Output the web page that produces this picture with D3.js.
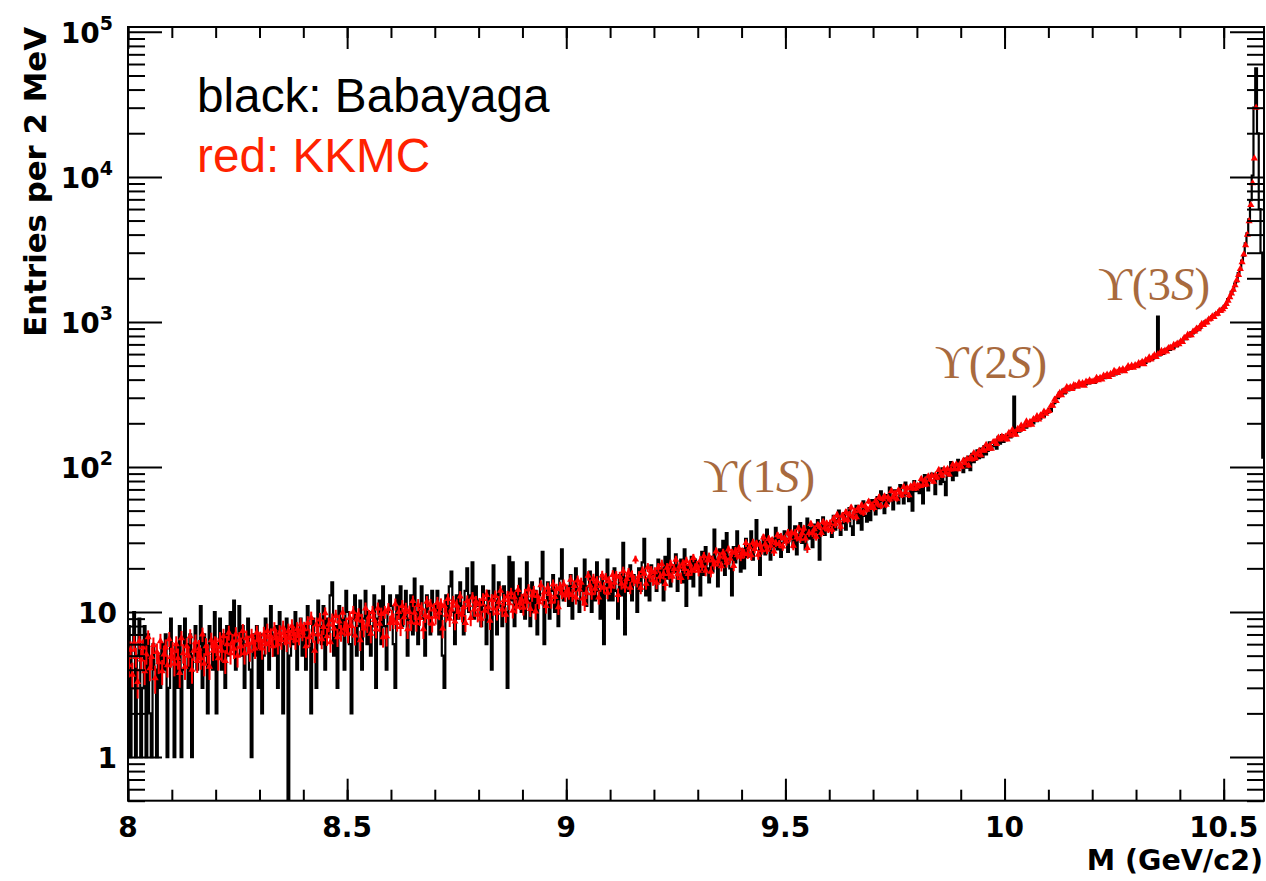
<!DOCTYPE html>
<html>
<head>
<meta charset="utf-8">
<script src="https://cdn.jsdelivr.net/npm/d3@7/dist/d3.min.js"></script>
<style>
    body { margin: 0; background: #fff; }
    .tick line { stroke: #000; stroke-width: 2; }
</style>
</head>
<body>
<svg id="chart" width="1266" height="881"></svg>
<script>
// histogram binning (values are entries per 2 MeV)
const binStart = 8.0;
const binWidth = 0.004;

// black: Babayaga, 25 bins per 0.1 GeV
const babayaga = [
    8, 1, 6, 10, 1, 5, 9, 1, 3, 8, 1, 7, 2, 1, 6, 4, 1, 5, 3, 6, 4, 7, 1, 3, 9,
    5, 1, 6, 3, 8, 1, 4, 9, 6, 3, 7, 1, 5, 8, 4, 6, 11, 3, 7, 5, 2, 8, 6, 4, 10,
    2, 6, 9, 4, 7, 3, 8, 5, 10, 6, 12, 4, 7, 11, 5, 8, 3, 6, 9, 4, 1, 7, 5, 8, 3,
    7, 2, 5, 9, 6, 4, 11, 7, 5, 8, 3, 10, 6, 2, 7, 9, 0, 5, 8, 6, 10, 4, 7, 9, 5,
    8, 4, 11, 6, 2, 9, 7, 3, 12, 8, 6, 11, 4, 9, 7, 13, 16, 5, 8, 3, 11, 7, 9, 4, 14,
    10, 6, 2, 9, 13, 5, 8, 12, 4, 9, 14, 6, 10, 5, 8, 13, 3, 9, 12, 6, 15, 8, 4, 10, 13,
    11, 6, 3, 13, 9, 15, 8, 10, 14, 5, 9, 13, 7, 17, 10, 6, 11, 15, 9, 5, 13, 10, 7, 14, 11,
    10, 14, 7, 11, 5, 3, 13, 9, 15, 19, 10, 6, 13, 9, 16, 11, 7, 14, 20, 10, 13, 22, 9, 15, 11,
    12, 8, 15, 11, 6, 14, 10, 4, 21, 12, 7, 16, 11, 8, 15, 10, 3, 24, 12, 22, 8, 14, 11, 17, 10,
    13, 9, 22, 12, 8, 16, 10, 14, 7, 13, 17, 26, 6, 12, 16, 9, 14, 18, 10, 13, 8, 17, 27, 12, 14,
    15, 11, 18, 9, 14, 20, 12, 10, 16, 14, 23, 11, 15, 19, 10, 16, 12, 22, 14, 9, 18, 6, 15, 23, 12,
    16, 12, 20, 14, 9, 18, 13, 30, 7, 17, 14, 21, 12, 18, 16, 10, 20, 14, 22, 32, 13, 17, 12, 21, 18,
    19, 14, 23, 16, 20, 12, 24, 17, 32, 15, 21, 19, 25, 14, 20, 23, 16, 27, 11, 21, 17, 24, 15, 23, 20,
    22, 13, 26, 18, 28, 20, 16, 24, 19, 37, 23, 15, 27, 22, 31, 18, 35, 24, 20, 13, 28, 22, 36, 26, 19,
    27, 20, 32, 24, 29, 36, 23, 28, 43, 31, 18, 27, 33, 25, 37, 29, 23, 32, 28, 38, 27, 34, 24, 30, 36,
    32, 26, 53, 35, 28, 39, 25, 34, 41, 30, 36, 27, 44, 32, 38, 28, 40, 35, 43, 23, 36, 45, 34, 39, 41,
    40, 33, 46, 37, 43, 50, 34, 41, 48, 37, 44, 52, 39, 34, 46, 54, 41, 49, 37, 58, 46, 42, 52, 43, 59,
    56, 47, 62, 52, 68, 58, 48, 64, 56, 72, 59, 51, 69, 61, 56, 75, 63, 56, 78, 65, 58, 71, 50, 80, 68,
    75, 66, 81, 56, 88, 87, 69, 81, 90, 89, 65, 83, 92, 76, 98, 79, 64, 97, 87, 108, 81, 99, 87, 112, 103,
    104, 92, 114, 99, 118, 95, 123, 108, 112, 130, 115, 134, 117, 139, 122, 129, 148, 132, 139, 152, 134, 161, 145, 166, 149,
    163, 154, 170, 160, 174, 305, 172, 184, 175, 190, 182, 196, 187, 201, 194, 209, 200, 216, 207, 223, 215, 232, 222, 240, 236,
    252, 244, 270, 275, 301, 298, 327, 318, 341, 322, 352, 337, 344, 362, 348, 370, 356, 359, 378, 364, 383, 371, 392, 377, 396,
    392, 380, 401, 396, 415, 398, 420, 409, 431, 417, 440, 426, 452, 435, 447, 466, 451, 473, 458, 468, 487, 474, 495, 482, 506,
    508, 493, 525, 511, 540, 522, 556, 538, 571, 553, 590, 568, 1087, 587, 626, 603, 645, 622, 662, 641, 684, 660, 703, 682, 727,
    741, 726, 776, 760, 812, 795, 848, 833, 883, 869, 925, 904, 964, 950, 1008, 985, 1052, 1037, 1095, 1081, 1146, 1128, 1195, 1176, 1248,
    1290, 1318, 1436, 1462, 1611, 1648, 1838, 1900, 2170, 2280, 2650, 2860, 3480, 4080, 5100, 6900, 10200, 30000, 56000, 20000, 6000, 3000, 116
];

// red: KKMC, same bins (null = no entry)
const kkmc = [
    4.3, 5.5, 3.7, 6.1, 4.9, 3.3, 6.3, 4.7, 5.7, 3.9, 5.1, 6.7, 4.1, 4.9, 5.9, 3.5, 5.3, 4.5, 6.3, 3.9, 5.1, 5.7, 4.3, 6.5, 4.9,
    5.4, 4.4, 6.0, 4.8, 3.8, 6.6, 5.2, 4.2, 5.8, 5.0, 6.8, 4.0, 5.4, 6.2, 4.6, 5.6, 4.8, 7.0, 4.4, 5.8, 5.2, 4.2, 6.4, 5.4, 6.0,
    5.8, 4.8, 6.4, 5.4, 6.8, 4.6, 6.0, 7.2, 5.2, 6.2, 5.6, 7.0, 5.0, 6.4, 5.8, 7.4, 5.2, 6.6, 6.0, 5.4, 6.8, 6.2, 5.6, 7.2, 6.4,
    6.4, 5.6, 7.0, 6.0, 7.4, 6.2, 6.8, 5.8, 7.6, 6.6, 6.0, 7.2, 6.4, 7.8, 6.8, 6.2, 7.4, 6.6, 8.0, 7.0, 6.4, 7.6, 6.8, 8.2, 7.2,
    7.6, 5.8, 8.4, 6.7, 9.1, 7.1, 5.4, 8.2, 7.0, 8.9, 6.5, 7.9, 9.8, 6.8, 8.2, 6.2, 8.8, 7.7, 9.4, 6.7, 8.6, 7.2, 9.9, 7.7, 8.2,
    7.1, 9.1, 8.0, 10.0, 6.9, 8.9, 9.6, 6.4, 8.7, 7.7, 10.6, 8.2, 9.3, 7.1, 10.0, 8.8, 7.6, 10.6, 8.3, 9.7, 6.7, 10.0, 6.8, 10.5, 8.4,
    9.2, 8.7, 11.3, 8.4, 10.0, 7.9, 11.0, 9.2, 10.5, 7.6, 10.0, 8.5, 11.9, 9.9, 8.4, 11.2, 9.1, 10.6, 7.6, 9.5, 11.8, 9.2, 11.2, 8.3, 10.4,
    9.3, 11.6, 9.9, 11.3, 7.7, 11.0, 9.6, 12.3, 9.0, 10.4, 11.8, 8.6, 11.1, 10.0, 12.8, 9.6, 10.8, 8.4, 11.9, 11.2, 9.1, 12.6, 10.4, 11.8, 9.6,
    11.3, 9.0, 12.3, 10.2, 13.1, 10.8, 8.7, 12.1, 10.6, 12.9, 9.9, 11.7, 14.0, 10.4, 12.1, 9.6, 12.8, 11.5, 13.5, 10.2, 12.6, 10.9, 14.2, 11.5, 12.2,
    10.7, 13.2, 11.8, 14.3, 10.5, 13.0, 13.9, 10.1, 12.9, 11.7, 15.3, 12.3, 13.7, 11.0, 14.7, 13.3, 11.8, 15.5, 12.7, 14.4, 10.8, 14.9, 13.5, 15.5, 13.0,
    14.1, 13.5, 16.7, 13.1, 15.1, 12.6, 16.5, 14.3, 15.9, 12.4, 11.5, 13.6, 17.8, 15.3, 13.5, 17.0, 14.5, 16.3, 12.6, 15.1, 17.9, 14.7, 17.2, 13.6, 16.3,
    15.0, 18.0, 15.9, 17.7, 13.1, 17.5, 15.7, 19.1, 15.0, 16.9, 18.7, 14.7, 17.9, 16.5, 23.0, 16.2, 17.7, 14.7, 19.2, 18.4, 15.7, 20.3, 17.6, 19.3, 16.6,
    18.8, 15.9, 20.2, 17.5, 21.4, 18.3, 15.6, 20.2, 18.3, 21.4, 17.5, 19.8, 22.9, 18.2, 20.5, 17.2, 21.5, 19.8, 22.5, 18.3, 21.4, 19.3, 23.6, 20.1, 21.0,
    19.3, 22.7, 20.9, 24.3, 19.3, 22.7, 24.0, 19.0, 22.8, 21.3, 26.2, 22.3, 24.2, 20.7, 25.6, 23.8, 21.9, 27.0, 23.3, 25.6, 20.8, 26.4, 24.6, 27.4, 24.1,
    26.0, 25.3, 29.9, 25.1, 27.9, 24.6, 30.1, 27.2, 29.6, 24.8, 29.1, 26.7, 32.7, 29.3, 26.9, 31.9, 28.6, 31.2, 26.2, 29.8, 33.8, 29.5, 33.1, 28.3, 32.1,
    30.7, 35.2, 32.3, 35.0, 28.7, 35.1, 32.7, 37.8, 32.0, 35.0, 37.7, 32.1, 27.6, 35.1, 40.5, 34.9, 37.3, 33.1, 39.8, 38.8, 35.1, 41.8, 38.1, 40.8, 37.1,
    40.9, 36.9, 44.0, 40.3, 46.7, 42.4, 38.7, 46.1, 43.6, 48.8, 43.2, 47.2, 52.5, 45.6, 49.6, 45.0, 52.1, 49.9, 54.5, 48.3, 53.6, 50.8, 57.8, 52.9, 54.7,
    52.1, 58.3, 55.8, 61.9, 54.0, 60.2, 62.7, 54.9, 61.7, 59.6, 68.3, 62.2, 65.8, 60.4, 69.1, 66.6, 63.8, 72.8, 67.1, 71.4, 63.9, 73.6, 71.1, 76.2, 71.2,
    74.4, 73.9, 82.7, 75.1, 80.9, 75.8, 86.2, 82.0, 87.0, 79.3, 87.7, 84.3, 95.5, 90.4, 87.0, 96.6, 91.5, 96.9, 88.9, 96.0, 103.9, 97.1, 104.2, 96.6, 104.1,
    100.5, 110.6, 106.5, 113.1, 102.3, 116.1, 113.0, 124.6, 114.9, 122.5, 129.1, 120.4, 131.6, 129.5, 142.2, 133.4, 140.0, 133.9, 148.6, 149.0, 144.4, 159.1, 154.5, 162.1, 157.4,
    162, 155, 172, 165, 180, 172, 167, 183, 180, 193, 183, 193, 206, 194, 205, 196, 214, 211, 224, 213, 227, 223, 241, 233, 241,
    243, 264, 265, 291, 285, 310, 324, 313, 333, 332, 355, 345, 355, 345, 366, 363, 358, 380, 368, 379, 363, 387, 382, 395, 385,
    389, 390, 412, 396, 411, 402, 427, 420, 433, 418, 438, 433, 460, 451, 445, 468, 459, 473, 457, 475, 495, 481, 499, 484, 503,
    495, 519, 514, 531, 511, 545, 542, 569, 552, 571, 590, 574, 601, 602, 632, 616, 634, 625, 661, 664, 658, 694, 688, 708, 702,
    734, 729, 775, 772, 816, 810, 809, 857, 861, 901, 892, 928, 969, 955, 992, 990, 1041, 1051, 1092, 1084, 1129, 1138, 1192, 1193, 1224,
    1270, 1330, 1400, 1480, 1570, 1670, 1790, 1940, 2110, 2320, 2580, 2920, 3380, 4000, 4950, 6400, 9060, 13400, 30000, null, null, null, null
];

// KKMC statistical error, one value per 0.1 GeV
const kkmcErr = [0.77, 0.8, 0.86, 0.91, 0.96, 1.02, 1.08, 1.12, 1.18, 1.25, 1.35, 1.44, 1.55,
    1.68, 1.87, 2.07, 2.4, 2.78, 3.26, 4.0, 4.95, 6.45, 7.4, 8.6, 10.8, 18];

// axes
const xMajorTicks = [8, 8.5, 9, 9.5, 10, 10.5];
const xTickLabels = ['8', '8.5', '9', '9.5', '10', '10.5'];
const yDecades = [1, 10, 100, 1000, 10000, 100000];
const yTickBase = ['1', '10', '10', '10', '10', '10'];
const yTickExp = ['', '', '2', '3', '4', '5'];

const legendLines = [
    { text: 'black: Babayaga', color: '#000' },
    { text: 'red: KKMC', color: '#ff2200' }
];

// resonance annotations (x in GeV, y in entries)
const upsilonLabels = [
    { n: '1', x: 9.312, y: 67 },
    { n: '2', x: 9.841, y: 410 },
    { n: '3', x: 10.213, y: 1416 }
];

const svg = d3.select('#chart');
svg.append('rect').attr('width', 1266).attr('height', 881).attr('fill', '#fff');

const frameLeft = 128, frameRight = 1264, frameTop = 27, frameBottom = 800.7;
const xMax = binStart + babayaga.length * binWidth;
const yMin = 0.5, yMax = 1.08e5;

const xScale = d3.scaleLinear().domain([binStart, xMax]).range([frameLeft, frameRight]);
const yScale = d3.scaleLog().domain([yMin, yMax]).range([frameBottom, frameTop]);

svg.append('clipPath').attr('id', 'frame')
    .append('rect')
    .attr('x', frameLeft).attr('y', frameTop)
    .attr('width', frameRight - frameLeft).attr('height', frameBottom - frameTop);

const plot = svg.append('g').attr('clip-path', 'url(#frame)');

// black step histogram
let histPath = '';
babayaga.forEach((v, i) => {
    const x0 = xScale(binStart + i * binWidth);
    const x1 = xScale(binStart + (i + 1) * binWidth);
    const y = yScale(Math.max(v, yMin));
    histPath += (i === 0 ? `M${x0},${y}` : `V${y}`) + `H${x1}`;
});
plot.append('path')
    .attr('d', histPath)
    .attr('fill', 'none')
    .attr('stroke', '#000')
    .attr('stroke-width', 2.2);

// red points with error bars
const kkmcPts = kkmc.map((v, i) => ({
    x: binStart + (i + 0.5) * binWidth,
    v: v,
    e: kkmcErr[Math.floor(i / 25)]
})).filter(p => p.v !== null);

plot.append('g').selectAll('line')
    .data(kkmcPts)
    .enter()
    .append('line')
    .attr('x1', p => xScale(p.x))
    .attr('x2', p => xScale(p.x))
    .attr('y1', p => yScale(Math.max(p.v - p.e, yMin)))
    .attr('y2', p => yScale(p.v + p.e))
    .attr('stroke', '#ff0000')
    .attr('stroke-width', 2);

const tri = d3.symbol().type(d3.symbolTriangle).size(22);
plot.append('g').selectAll('path')
    .data(kkmcPts)
    .enter()
    .append('path')
    .attr('transform', p => `translate(${xScale(p.x)},${yScale(p.v)})`)
    .attr('d', tri)
    .attr('fill', '#ff0000');

// ticks on all four sides, pointing inwards
const xMinor = d3.range(0, 26).map(i => +(binStart + i * 0.1).toFixed(1));
const yMinor = [];
[0.1, 1, 10, 100, 1000, 10000].forEach(d => {
    for (let k = 2; k <= 9; k++) {
        const t = k * d;
        if (t >= yMin && t <= yMax) yMinor.push(t);
    }
});

function tickAxis(gen, scale, values, size, transform) {
    const g = svg.append('g')
        .attr('transform', transform)
        .call(gen(scale).tickValues(values).tickSize(-size).tickFormat(''));
    g.select('.domain').remove();
}
tickAxis(d3.axisBottom, xScale, xMinor, 11, `translate(0,${frameBottom})`);
tickAxis(d3.axisBottom, xScale, xMajorTicks, 22, `translate(0,${frameBottom})`);
tickAxis(d3.axisTop, xScale, xMinor, 11, `translate(0,${frameTop})`);
tickAxis(d3.axisTop, xScale, xMajorTicks, 22, `translate(0,${frameTop})`);
tickAxis(d3.axisLeft, yScale, yMinor, 17, `translate(${frameLeft},0)`);
tickAxis(d3.axisLeft, yScale, yDecades, 34, `translate(${frameLeft},0)`);
tickAxis(d3.axisRight, yScale, yMinor, 17, `translate(${frameRight},0)`);
tickAxis(d3.axisRight, yScale, yDecades, 34, `translate(${frameRight},0)`);

// frame
svg.append('rect')
    .attr('x', frameLeft).attr('y', frameTop)
    .attr('width', frameRight - frameLeft).attr('height', frameBottom - frameTop)
    .attr('fill', 'none')
    .attr('stroke', '#000')
    .attr('stroke-width', 2);

const boldFont = '"DejaVu Sans", sans-serif';

// x tick labels
svg.append('g').selectAll('text')
    .data(xMajorTicks)
    .enter()
    .append('text')
    .attr('x', d => xScale(d))
    .attr('y', 836.5)
    .attr('text-anchor', 'middle')
    .attr('font-family', boldFont)
    .attr('font-weight', 'bold')
    .attr('font-size', 28)
    .text((d, i) => xTickLabels[i]);

// y tick labels with exponents
const yLab = svg.append('g').selectAll('text')
    .data(yDecades)
    .enter()
    .append('text')
    .attr('x', (d, i) => yTickExp[i] ? 113 : 117)
    .attr('y', d => yScale(d) + 11)
    .attr('text-anchor', 'end')
    .attr('font-family', boldFont)
    .attr('font-weight', 'bold')
    .attr('font-size', 28);
yLab.append('tspan').text((d, i) => yTickBase[i]);
yLab.filter((d, i) => yTickExp[i] !== '')
    .append('tspan')
    .attr('dy', -13)
    .attr('font-size', 19)
    .text(d => yTickExp[yDecades.indexOf(d)]);

// axis titles
svg.append('text')
    .attr('x', 1263)
    .attr('y', 870)
    .attr('text-anchor', 'end')
    .attr('font-family', boldFont)
    .attr('font-weight', 'bold')
    .attr('font-size', 28.5)
    .text('M (GeV/c2)');

svg.append('text')
    .attr('transform', `translate(46,${frameTop}) rotate(-90)`)
    .attr('text-anchor', 'end')
    .attr('font-family', boldFont)
    .attr('font-weight', 'bold')
    .attr('font-size', 30.8)
    .text('Entries per 2 MeV');

// legend text
svg.append('g').selectAll('text')
    .data(legendLines)
    .enter()
    .append('text')
    .attr('x', 197)
    .attr('y', (d, i) => 112 + i * 60)
    .attr('font-family', '"Liberation Sans", Arial, sans-serif')
    .attr('font-size', 47.7)
    .attr('fill', d => d.color)
    .text(d => d.text);

// upsilon labels
const ups = svg.append('g').selectAll('text')
    .data(upsilonLabels)
    .enter()
    .append('text')
    .attr('x', d => xScale(d.x))
    .attr('y', d => yScale(d.y))
    .attr('font-family', '"Liberation Serif", "DejaVu Serif", serif')
    .attr('font-size', 47)
    .attr('fill', '#a86a3e');
ups.append('tspan').text(d => '\u03D2(' + d.n);
ups.append('tspan').attr('font-style', 'italic').text('S');
ups.append('tspan').text(')');
</script>
</body>
</html>
